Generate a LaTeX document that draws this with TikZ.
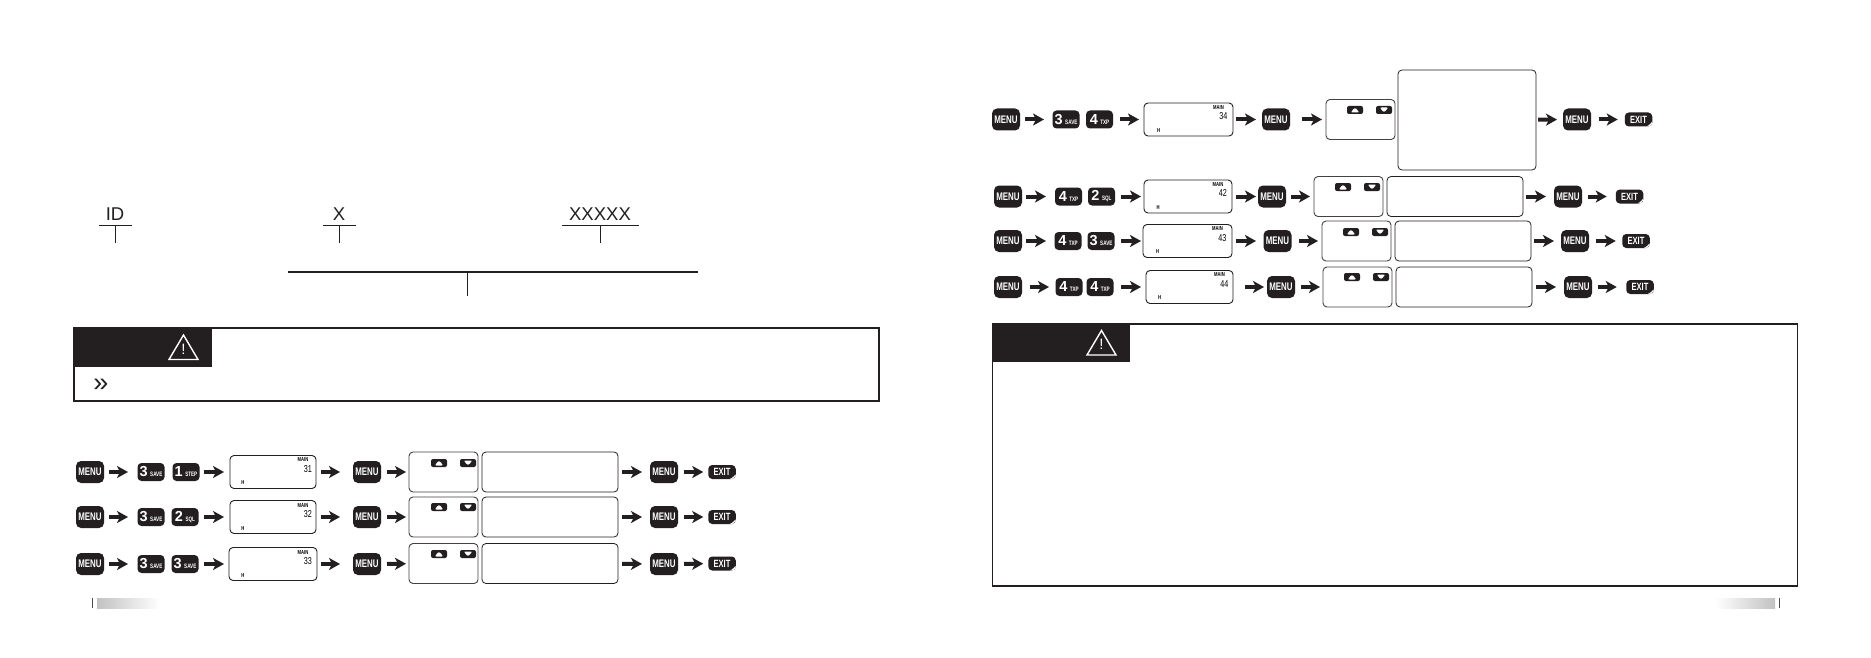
\documentclass[tikz,border=0pt]{standalone}
\usepackage{fontspec}
\setmainfont{Liberation Sans}
\newfontfamily\keyfont[FakeStretch=0.72]{Liberation Sans}
\usetikzlibrary{arrows.meta,positioning,shapes}
\definecolor{keyblack}{HTML}{231F20}
\newcommand{\numkey}[2]{{\fontsize{14.5}{14}\selectfont\bfseries #1}\hspace{2.5pt}{\keyfont\fontsize{6.4}{6}\selectfont\bfseries #2}}
\tikzset{
menukey/.style={fill=keyblack,rounded corners=5pt,minimum width=28pt,minimum height=22pt,inner sep=0pt,outer sep=0pt,text=white,font=\keyfont\fontsize{11}{12}\selectfont\bfseries},
digitkey/.style={fill=keyblack,rounded corners=4pt,minimum width=27pt,minimum height=18pt,inner sep=0pt,outer sep=0pt,text=white},
exitkey/.style={fill=keyblack,rounded corners=4pt,minimum width=27.5pt,minimum height=14pt,inner sep=0pt,outer sep=0pt,text=white,font=\keyfont\fontsize{10.5}{11}\selectfont\bfseries,
  path picture={\fill[white] ([xshift=-8pt]path picture bounding box.south east) to[bend right=28] ([yshift=7pt]path picture bounding box.south east) -- (path picture bounding box.south east) -- cycle;}},
upkey/.style={fill=keyblack,rounded corners=2pt,minimum width=16pt,minimum height=8pt,inner sep=0pt,outer sep=0pt,
  path picture={\fill[white] ([xshift=-4.5pt,yshift=-2.5pt]path picture bounding box.center) -- ([xshift=4.5pt,yshift=-2.5pt]path picture bounding box.center) -- ([yshift=2.5pt]path picture bounding box.center) -- cycle;}},
downkey/.style={fill=keyblack,rounded corners=2pt,minimum width=16pt,minimum height=8pt,inner sep=0pt,outer sep=0pt,
  path picture={\fill[white] ([xshift=-4.5pt,yshift=2.5pt]path picture bounding box.center) -- ([xshift=4.5pt,yshift=2.5pt]path picture bounding box.center) -- ([yshift=-2.5pt]path picture bounding box.center) -- cycle;}},
lcdbox/.style={draw=keyblack,line width=.9pt,rounded corners=4pt,minimum height=33pt,inner sep=0pt,outer sep=0pt},
stepbox/.style={draw=keyblack!85,line width=.9pt,rounded corners=4pt,minimum width=69pt,minimum height=40pt,inner sep=0pt,outer sep=0pt},
textbox/.style={draw=keyblack,line width=.8pt,rounded corners=4pt,minimum width=136pt,minimum height=40pt,inner sep=0pt,outer sep=0pt},
maintag/.style={xshift=30pt,yshift=12pt,inner sep=0pt,font=\keyfont\fontsize{5.8}{6}\selectfont\bfseries},
numtag/.style={xshift=39pt,yshift=3pt,anchor=east,inner sep=0pt,font=\keyfont\fontsize{10}{10}\selectfont},
hightag/.style={xshift=-30pt,yshift=-11pt,inner sep=0pt,font=\keyfont\fontsize{5.8}{6}\selectfont\bfseries},
flowarrow/.style 2 args={-{Stealth[length=11pt,width=12pt,inset=3pt]},line width=4pt,draw=keyblack,shorten <=#1pt,shorten >=#2pt},
fieldtag/.style={inner sep=0pt,text=keyblack,font=\fontsize{18.5}{18}\selectfont},
warnbox/.style={draw=keyblack,line width=2.2pt,inner sep=0pt,outer sep=0pt},
warnhead/.style={fill=keyblack,minimum width=138pt,minimum height=39pt,inner sep=0pt,outer sep=0pt,
  path picture={\draw[white,line width=1.4pt,line join=miter] ([xshift=26pt,yshift=-12.5pt]path picture bounding box.center) -- ([xshift=55pt,yshift=-12.5pt]path picture bounding box.center) -- ([xshift=40.5pt,yshift=12pt]path picture bounding box.center) -- cycle;}},
warnmark/.style={inner sep=0pt,text=white,font=\fontsize{15}{15}\selectfont},
}
\begin{document}
\begin{tikzpicture}[x=1pt,y=-1pt]
\useasboundingbox[fill=white] (0,0) rectangle (1871,658);
\node[fieldtag] (id) at (115,214) {ID};
\node[fieldtag] (xa) at (339,214) {X};
\node[fieldtag] (xb) at (600,214) {XXXXX};
\coordinate (idl) at (99,225);
\coordinate (idr) at (132,225);
\coordinate (idt) at (115,225);
\coordinate (idb) at (115,243);
\coordinate (xal) at (323,225);
\coordinate (xar) at (356,225);
\coordinate (xat) at (339.5,225);
\coordinate (xab) at (339.5,243);
\coordinate (xbl) at (562,225);
\coordinate (xbr) at (639,225);
\coordinate (xbt) at (600,225);
\coordinate (xbb) at (600,243);
\coordinate (suml) at (288,272);
\coordinate (sumr) at (698,272);
\coordinate (sumt) at (467,272);
\coordinate (sumb) at (467,296);
\draw[keyblack,line width=.8pt] (idl) -- (idr);
\draw[keyblack,line width=.8pt] (idt) -- (idb);
\draw[keyblack,line width=.8pt] (xal) -- (xar);
\draw[keyblack,line width=1.8pt] (xat) -- (xab);
\draw[keyblack,line width=.8pt] (xbl) -- (xbr);
\draw[keyblack,line width=.8pt] (xbt) -- (xbb);
\draw[keyblack,line width=1.8pt] (suml) -- (sumr);
\draw[keyblack,line width=.8pt] (sumt) -- (sumb);

\node[warnbox,minimum width=805pt,minimum height=73pt] (warna) at (476.5,364.5) {};
\node[warnhead] (heada) at (143,347) {};
\node[warnmark] (marka) at (183.5,349) {!};
\node[inner sep=0pt,text=keyblack,font=\fontsize{27}{24}\selectfont] (chevron) at (101,385) {»};
\node[warnbox,line width=1.4pt,minimum width=805pt,minimum height=262pt] (warnb) at (1395,455) {};
\node[warnhead] (headb) at (1061,342.5) {};
\node[warnmark] (markb) at (1101.5,344.5) {!};

\node[menukey] (menu31a) at (90,472) {MENU};
\node[digitkey] (savek31) at (151,472) {\numkey{3}{SAVE}};
\node[digitkey] (stepk31) at (186,472) {\numkey{1}{STEP}};
\node[lcdbox,minimum width=86pt] (lcd31) at (273,472) {};
\node[maintag] (main31) at (lcd31) {MAIN};
\node[numtag] (num31) at (lcd31) {31};
\node[hightag] (high31) at (lcd31) {H};
\node[menukey] (menu31b) at (367,472) {MENU};
\node[stepbox] (ud31) at (443.5,472) {};
\node[upkey] (up31) at (439,463) {};
\node[downkey] (down31) at (468,463) {};
\node[textbox] (box31) at (550,472) {};
\node[menukey] (menu31c) at (664,472) {MENU};
\node[exitkey] (exit31) at (722,472) {EXIT};
\draw[flowarrow={5}{9.5}] (menu31a) -- (savek31);
\draw[flowarrow={4.5}{6}] (stepk31) -- (lcd31);
\draw[flowarrow={5}{13}] (lcd31) -- (menu31b);
\draw[flowarrow={6}{3}] (menu31b) -- (ud31);
\draw[flowarrow={4}{8}] (box31) -- (menu31c);
\draw[flowarrow={6}{5}] (menu31c) -- (exit31);

\node[menukey] (menu32a) at (90,517) {MENU};
\node[digitkey] (savek32) at (151,517) {\numkey{3}{SAVE}};
\node[digitkey] (sqlk32) at (185,517) {\numkey{2}{SQL}};
\node[lcdbox,minimum width=86pt] (lcd32) at (273,517) {};
\node[maintag] (main32) at (lcd32) {MAIN};
\node[numtag] (num32) at (lcd32) {32};
\node[hightag] (high32) at (lcd32) {H};
\node[menukey] (menu32b) at (367,517) {MENU};
\node[stepbox] (ud32) at (443.5,517) {};
\node[upkey] (up32) at (439,507) {};
\node[downkey] (down32) at (468,507) {};
\node[textbox] (box32) at (550,517) {};
\node[menukey] (menu32c) at (664,517) {MENU};
\node[exitkey] (exit32) at (722,517) {EXIT};
\draw[flowarrow={5}{9.5}] (menu32a) -- (savek32);
\draw[flowarrow={5.5}{6}] (sqlk32) -- (lcd32);
\draw[flowarrow={5}{13}] (lcd32) -- (menu32b);
\draw[flowarrow={6}{3}] (menu32b) -- (ud32);
\draw[flowarrow={4}{8}] (box32) -- (menu32c);
\draw[flowarrow={6}{5}] (menu32c) -- (exit32);

\node[menukey] (menu33a) at (90,564) {MENU};
\node[digitkey] (savek33a) at (151,564) {\numkey{3}{SAVE}};
\node[digitkey] (savek33b) at (185,564) {\numkey{3}{SAVE}};
\node[lcdbox,minimum width=88pt] (lcd33) at (273,564) {};
\node[maintag] (main33) at (lcd33) {MAIN};
\node[numtag] (num33) at (lcd33) {33};
\node[hightag] (high33) at (lcd33) {H};
\node[menukey] (menu33b) at (367,564) {MENU};
\node[stepbox] (ud33) at (443.5,563.5) {};
\node[upkey] (up33) at (439,554) {};
\node[downkey] (down33) at (468,554) {};
\node[textbox] (box33) at (550,563.5) {};
\node[menukey] (menu33c) at (664,564) {MENU};
\node[exitkey] (exit33) at (722,563.5) {EXIT};
\draw[flowarrow={5}{9.5}] (menu33a) -- (savek33a);
\draw[flowarrow={5.5}{5}] (savek33b) -- (lcd33);
\draw[flowarrow={4}{13}] (lcd33) -- (menu33b);
\draw[flowarrow={6}{3}] (menu33b) -- (ud33);
\draw[flowarrow={4}{8}] (box33) -- (menu33c);
\draw[flowarrow={6}{5}] (menu33c) -- (exit33);

\node[menukey] (menu34a) at (1006,119.5) {MENU};
\node[digitkey] (savek34) at (1066,119.5) {\numkey{3}{SAVE}};
\node[digitkey] (txpk34) at (1099.5,119.5) {\numkey{4}{TXP}};
\node[lcdbox,minimum width=89pt] (lcd34) at (1188.5,119.5) {};
\node[maintag] (main34) at (lcd34) {MAIN};
\node[numtag] (num34) at (lcd34) {34};
\node[hightag] (high34) at (lcd34) {H};
\node[menukey] (menu34b) at (1276,119.5) {MENU};
\node[stepbox] (ud34) at (1360.5,119.5) {};
\node[upkey] (up34) at (1355,110) {};
\node[downkey] (down34) at (1384,110) {};
\node[textbox,minimum width=138pt,minimum height=100pt] (box34) at (1467,120) {};
\node[menukey] (menu34c) at (1577,119.5) {MENU};
\node[exitkey] (exit34) at (1638.5,119.5) {EXIT};
\draw[flowarrow={5}{8.5}] (menu34a) -- (savek34);
\draw[flowarrow={7}{5}] (txpk34) -- (lcd34);
\draw[flowarrow={3}{6}] (lcd34) -- (menu34b);
\draw[flowarrow={12}{4}] (menu34b) -- (ud34);
\draw[flowarrow={2}{6}] (box34) -- (menu34c);
\draw[flowarrow={8}{7}] (menu34c) -- (exit34);

\node[menukey] (menu42a) at (1008,196.5) {MENU};
\node[digitkey] (txpk42) at (1068.5,196.5) {\numkey{4}{TXP}};
\node[digitkey] (sqlk42) at (1101.5,196.5) {\numkey{2}{SQL}};
\node[lcdbox,minimum width=88pt] (lcd42) at (1188,196.5) {};
\node[maintag] (main42) at (lcd42) {MAIN};
\node[numtag] (num42) at (lcd42) {42};
\node[hightag] (high42) at (lcd42) {H};
\node[menukey] (menu42b) at (1272,196.5) {MENU};
\node[stepbox] (ud42) at (1348.5,196.5) {};
\node[upkey] (up42) at (1343,187) {};
\node[downkey] (down42) at (1372,187) {};
\node[textbox] (box42) at (1455,196.5) {};
\node[menukey] (menu42c) at (1568,196.5) {MENU};
\node[exitkey] (exit42) at (1629.5,196.5) {EXIT};
\draw[flowarrow={4}{9}] (menu42a) -- (txpk42);
\draw[flowarrow={6}{3}] (sqlk42) -- (lcd42);
\draw[flowarrow={4}{2}] (lcd42) -- (menu42b);
\draw[flowarrow={5}{4}] (menu42b) -- (ud42);
\draw[flowarrow={3}{8}] (box42) -- (menu42c);
\draw[flowarrow={6}{9}] (menu42c) -- (exit42);

\node[menukey] (menu43a) at (1008,241) {MENU};
\node[digitkey] (txpk43) at (1068,241) {\numkey{4}{TXP}};
\node[digitkey] (savek43) at (1101,241) {\numkey{3}{SAVE}};
\node[lcdbox,minimum width=89pt] (lcd43) at (1187.5,241) {};
\node[maintag] (main43) at (lcd43) {MAIN};
\node[numtag] (num43) at (lcd43) {43};
\node[hightag] (high43) at (lcd43) {H};
\node[menukey] (menu43b) at (1277.5,241) {MENU};
\node[stepbox] (ud43) at (1356.5,241) {};
\node[upkey] (up43) at (1351,232) {};
\node[downkey] (down43) at (1380,232) {};
\node[textbox] (box43) at (1463,241) {};
\node[menukey] (menu43c) at (1575,241) {MENU};
\node[exitkey] (exit43) at (1636,241) {EXIT};
\draw[flowarrow={4}{8.5}] (menu43a) -- (txpk43);
\draw[flowarrow={6.5}{2}] (savek43) -- (lcd43);
\draw[flowarrow={4}{7.5}] (lcd43) -- (menu43b);
\draw[flowarrow={7.5}{4}] (menu43b) -- (ud43);
\draw[flowarrow={3}{7}] (box43) -- (menu43c);
\draw[flowarrow={7}{6.5}] (menu43c) -- (exit43);

\node[menukey] (menu44a) at (1008,287) {MENU};
\node[digitkey] (txpk44a) at (1069,287) {\numkey{4}{TXP}};
\node[digitkey] (txpk44b) at (1100,287) {\numkey{4}{TXP}};
\node[lcdbox,minimum width=87pt] (lcd44) at (1189.5,287) {};
\node[maintag] (main44) at (lcd44) {MAIN};
\node[numtag] (num44) at (lcd44) {44};
\node[hightag] (high44) at (lcd44) {H};
\node[menukey] (menu44b) at (1281,287) {MENU};
\node[stepbox] (ud44) at (1357.5,287) {};
\node[upkey] (up44) at (1352,277) {};
\node[downkey] (down44) at (1381,277) {};
\node[textbox] (box44) at (1464,287) {};
\node[menukey] (menu44c) at (1578,287) {MENU};
\node[exitkey] (exit44) at (1640,287) {EXIT};
\draw[flowarrow={8}{6.5}] (menu44a) -- (txpk44a);
\draw[flowarrow={7.5}{5}] (txpk44b) -- (lcd44);
\draw[flowarrow={12}{3}] (lcd44) -- (menu44b);
\draw[flowarrow={6}{3}] (menu44b) -- (ud44);
\draw[flowarrow={4}{8}] (box44) -- (menu44c);
\draw[flowarrow={6}{9.5}] (menu44c) -- (exit44);

\node[left color=black!24,right color=white,minimum width=63pt,minimum height=10pt,inner sep=0pt,outer sep=0pt] (barl) at (128.5,603) {};
\node[left color=white,right color=black!24,minimum width=60pt,minimum height=10pt,inner sep=0pt,outer sep=0pt] (barr) at (1745,603) {};
\coordinate (tickla) at (92,598);
\coordinate (ticklb) at (92,608);
\coordinate (tickra) at (1779,598);
\coordinate (tickrb) at (1779,608);
\draw[black!70,line width=.9pt] (tickla) -- (ticklb);
\draw[black!70,line width=.9pt] (tickra) -- (tickrb);
\end{tikzpicture}
\end{document}
